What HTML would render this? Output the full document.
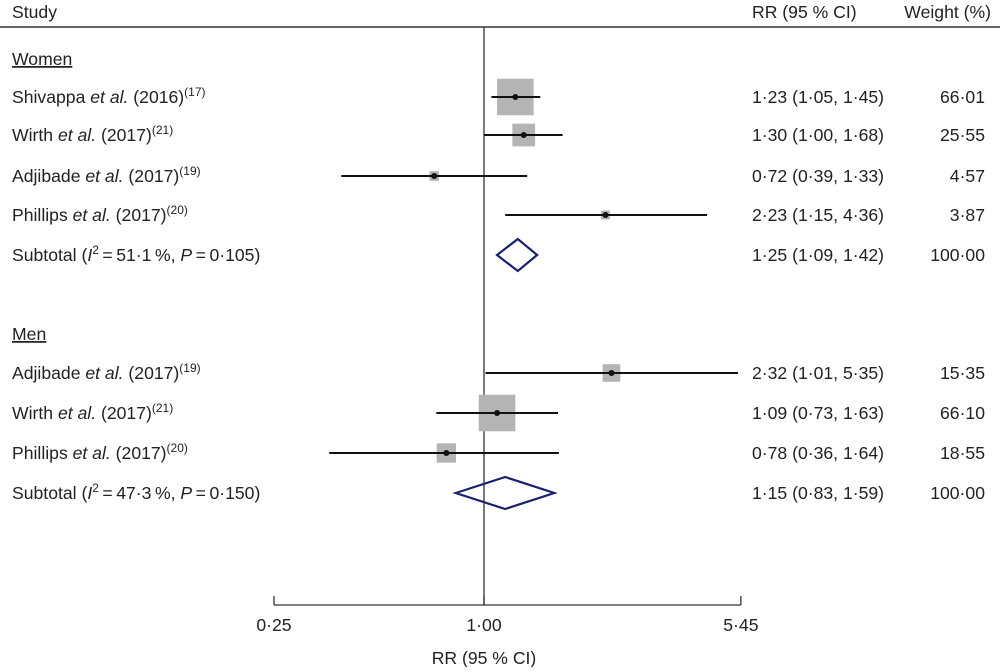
<!DOCTYPE html>
<html><head><meta charset="utf-8"><style>
body{margin:0;background:#fff}
svg text{font-family:"Liberation Sans",Arial,sans-serif;font-size:17.6px;fill:#222}
</style></head><body>
<svg width="1000" height="667" viewBox="0 0 1000 667">
<g id="g"></g>
</svg>
<script>
const studies=["Shivappa|(2016)|17","Wirth|(2017)|21","Adjibade|(2017)|19","Phillips|(2017)|20","Adjibade|(2017)|19","Wirth|(2017)|21","Phillips|(2017)|20"];
const groups=[0,0,0,0,1,1,1];
const rr=[1.23,1.30,0.72,2.23,2.32,1.09,0.78];
const lo=[1.05,1.00,0.39,1.15,1.01,0.73,0.36];
const hi=[1.45,1.68,1.33,4.36,5.35,1.63,1.64];
const weight=["66·01","25·55","4·57","3·87","15·35","66·10","18·55"];
const wnum=[66.01,25.55,4.57,3.87,15.35,66.10,18.55];
const subRR=[1.25,1.15],subLo=[1.09,0.83],subHi=[1.42,1.59];
const subI2=["51·1","47·3"],subP=["0·105","0·150"];
const ticks=[0.25,1.00,5.45],tickLabels=["0·25","1·00","5·45"];
const rowY=[97,135,176,215,373,413,453];const subY=[255,493];const headY=[59,334];
const NS="http://www.w3.org/2000/svg";const g=document.getElementById('g');
const X=v=>484+151.5*Math.log(v);
const fmt=v=>v.toFixed(2).replace('.','·');
function el(t,a,txt){const e=document.createElementNS(NS,t);for(const k in a)e.setAttribute(k,a[k]);if(txt!=null)e.textContent=txt;g.appendChild(e);return e;}
let e;
e=el('line',{x1:0,x2:1000,y1:27,y2:27,stroke:'#333','stroke-width':1.5});


e=el('text',{x:12,y:18},'Study');


e=el('text',{x:752,y:18},'RR (95 % CI)');


e=el('text',{x:991,y:18,'text-anchor':'end'},'Weight (%)');


e=el('line',{x1:X(1),x2:X(1),y1:27,y2:605,stroke:'#333','stroke-width':1.3});


["Women","Men"].forEach((n,i)=>{
 e=el('text',{x:12,y:headY[i]+6,'text-decoration':'underline'},n);
 
 
});
rr.forEach((v,i)=>{
 const y=rowY[i],p=studies[i].split('|');
 e=el('text',{x:12,y:y+6});
 e.innerHTML=p[0]+' <tspan font-style="italic">et al.</tspan> '+p[1]+'<tspan dy="-7" font-size="12">('+p[2]+')</tspan>';
 
 
 const s=4.5*Math.sqrt(wnum[i]);
 e=el('rect',{x:X(v)-s/2,y:y-s/2,width:s,height:s,fill:'#b4b4b4'});
 
 
 e=el('line',{x1:X(lo[i]),x2:X(hi[i]),y1:y,y2:y,stroke:'#111','stroke-width':2});
 
 
 e=el('circle',{cx:X(v),cy:y,r:3,fill:'#111'});
 
 
 e=el('text',{x:752,y:y+6},fmt(v)+' ('+fmt(lo[i])+', '+fmt(hi[i])+')');
 
 
 e=el('text',{x:985,y:y+6,'text-anchor':'end'},weight[i]);
 
 
});
subRR.forEach((v,i)=>{
 const y=subY[i];
 e=el('text',{x:12,y:y+6});
 e.innerHTML='Subtotal (<tspan font-style="italic">I</tspan><tspan dy="-7" font-size="12">2</tspan><tspan dy="7">\u2009=\u2009</tspan>'+subI2[i]+'\u2009%, <tspan font-style="italic">P</tspan>\u2009=\u2009'+subP[i]+')';
 
 
 e=el('polygon',{points:`${X(subLo[i])},${y} ${X(v)},${y-16} ${X(subHi[i])},${y} ${X(v)},${y+16}`,fill:'none',stroke:'#1a1f6e','stroke-width':2.2});
 
 
 e=el('text',{x:752,y:y+6},fmt(v)+' ('+fmt(subLo[i])+', '+fmt(subHi[i])+')');
 
 
 e=el('text',{x:985,y:y+6,'text-anchor':'end'},'100·00');
 
 
});
e=el('line',{x1:X(ticks[0]),x2:X(ticks[2]),y1:605,y2:605,stroke:'#333','stroke-width':1.3});


ticks.forEach((t,i)=>{
 e=el('line',{x1:X(t),x2:X(t),y1:596,y2:605,stroke:'#333','stroke-width':1.3});
 
 
 e=el('text',{x:X(t),y:631,'text-anchor':'middle'},tickLabels[i]);
 
 
});
e=el('text',{x:X(1),y:664,'text-anchor':'middle'},'RR (95 % CI)');


</script>
</body></html>
